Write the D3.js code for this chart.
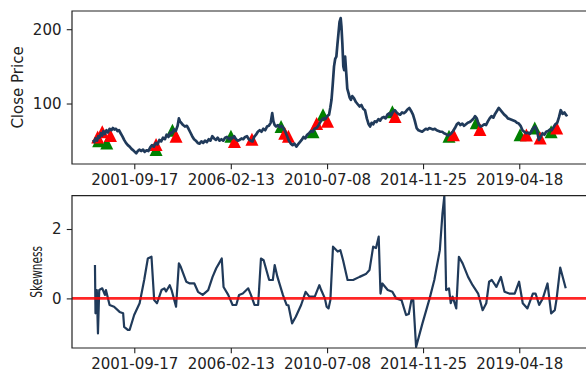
<!DOCTYPE html>
<html>
<head>
<meta charset="utf-8">
<script src="https://cdn.jsdelivr.net/npm/d3@7"></script>
<style>
  html, body { margin: 0; padding: 0; background: #fff; }
  svg { display: block; font-family: "DejaVu Sans", sans-serif; }
</style>
</head>
<body>
<svg id="chart" width="586" height="376"></svg>
<script>
// Daily close price, sampled roughly every few weeks
const priceSeries = [
  ["1999-11-01", 51], ["1999-11-20", 48], ["1999-12-10", 53], ["2000-01-05", 50], ["2000-01-25", 56],
  ["2000-02-15", 54], ["2000-03-10", 60], ["2000-04-01", 57], ["2000-04-20", 63], ["2000-05-15", 59],
  ["2000-06-10", 64], ["2000-07-05", 61], ["2000-08-01", 66], ["2000-09-01", 64], ["2000-09-25", 67],
  ["2000-10-20", 65], ["2000-11-15", 66], ["2000-12-10", 63], ["2001-01-05", 64], ["2001-02-01", 60],
  ["2001-03-01", 56], ["2001-04-01", 51], ["2001-05-01", 47], ["2001-06-01", 44], ["2001-07-01", 42],
  ["2001-08-01", 39], ["2001-09-01", 37], ["2001-09-25", 35], ["2001-10-20", 33], ["2001-11-15", 36],
  ["2001-12-10", 38], ["2002-01-10", 36], ["2002-02-10", 38], ["2002-03-10", 35], ["2002-04-10", 37],
  ["2002-05-10", 36], ["2002-06-10", 41], ["2002-07-10", 44], ["2002-08-10", 42], ["2002-09-10", 47],
  ["2002-10-10", 45], ["2002-11-10", 51], ["2002-12-10", 49], ["2003-01-10", 54], ["2003-02-10", 52],
  ["2003-03-10", 58], ["2003-04-10", 55], ["2003-05-10", 61], ["2003-06-10", 60], ["2003-07-10", 65],
  ["2003-08-10", 63], ["2003-09-10", 70], ["2003-10-01", 80], ["2003-10-20", 76], ["2003-11-10", 74],
  ["2003-12-10", 71], ["2004-01-10", 69], ["2004-02-10", 70], ["2004-03-10", 66], ["2004-04-10", 61],
  ["2004-05-10", 56], ["2004-06-10", 52], ["2004-07-10", 50], ["2004-08-10", 47], ["2004-09-10", 46],
  ["2004-10-10", 49], ["2004-11-10", 47], ["2004-12-10", 50], ["2005-01-10", 48], ["2005-02-10", 52],
  ["2005-03-10", 50], ["2005-04-10", 56], ["2005-05-10", 53], ["2005-06-10", 51], ["2005-07-10", 54],
  ["2005-08-10", 50], ["2005-09-10", 52], ["2005-10-10", 50], ["2005-11-10", 54], ["2005-12-10", 55],
  ["2006-01-10", 52], ["2006-02-10", 54], ["2006-03-10", 53], ["2006-04-10", 56], ["2006-05-10", 52],
  ["2006-06-10", 50], ["2006-07-10", 51], ["2006-08-10", 53], ["2006-09-10", 52], ["2006-10-10", 55],
  ["2006-11-10", 56], ["2006-12-10", 52], ["2007-01-10", 50], ["2007-02-10", 49], ["2007-03-10", 55],
  ["2007-04-10", 58], ["2007-05-10", 62], ["2007-06-10", 64], ["2007-07-10", 62], ["2007-08-10", 66],
  ["2007-09-10", 64], ["2007-10-10", 69], ["2007-11-10", 70], ["2007-12-10", 74], ["2008-01-05", 87],
  ["2008-01-25", 76], ["2008-02-15", 71], ["2008-03-10", 69], ["2008-04-10", 71], ["2008-05-10", 68],
  ["2008-06-10", 70], ["2008-07-10", 67], ["2008-08-10", 62], ["2008-09-10", 56], ["2008-10-10", 50],
  ["2008-11-10", 46], ["2008-12-10", 44], ["2009-01-10", 46], ["2009-02-10", 42], ["2009-03-10", 45],
  ["2009-04-10", 48], ["2009-05-10", 51], ["2009-06-10", 55], ["2009-07-10", 53], ["2009-08-10", 58],
  ["2009-09-10", 60], ["2009-10-10", 63], ["2009-11-10", 62], ["2009-12-10", 66], ["2010-01-10", 67],
  ["2010-02-10", 70], ["2010-03-10", 74], ["2010-04-10", 78], ["2010-05-10", 80], ["2010-06-10", 79],
  ["2010-07-10", 83], ["2010-08-10", 85], ["2010-09-01", 95], ["2010-09-20", 105], ["2010-10-10", 125],
  ["2010-11-01", 150], ["2010-11-20", 160], ["2010-12-10", 163], ["2010-12-28", 180], ["2011-01-15", 195],
  ["2011-02-01", 210], ["2011-02-20", 215], ["2011-03-05", 203], ["2011-03-20", 181], ["2011-04-05", 150],
  ["2011-04-20", 145], ["2011-05-05", 163], ["2011-05-25", 140], ["2011-06-10", 120], ["2011-07-01", 114],
  ["2011-07-20", 108], ["2011-08-10", 105], ["2011-09-01", 110], ["2011-10-01", 107], ["2011-11-01", 102],
  ["2011-12-01", 99], ["2012-01-01", 96], ["2012-02-01", 98], ["2012-03-01", 93], ["2012-04-01", 91],
  ["2012-05-01", 80], ["2012-06-01", 72], ["2012-06-25", 69], ["2012-07-20", 74], ["2012-08-15", 72],
  ["2012-09-10", 76], ["2012-10-10", 75], ["2012-11-10", 79], ["2012-12-10", 77], ["2013-01-10", 81],
  ["2013-02-10", 82], ["2013-03-10", 80], ["2013-04-10", 85], ["2013-05-10", 87], ["2013-06-10", 84],
  ["2013-07-10", 89], ["2013-08-10", 91], ["2013-09-10", 88], ["2013-10-10", 86], ["2013-11-10", 85],
  ["2013-12-10", 88], ["2014-01-10", 87], ["2014-02-10", 89], ["2014-03-10", 92], ["2014-04-10", 94],
  ["2014-05-10", 90], ["2014-06-10", 85], ["2014-07-10", 77], ["2014-08-10", 67], ["2014-09-10", 64],
  ["2014-10-10", 63], ["2014-11-10", 62], ["2014-12-10", 64], ["2015-01-10", 66], ["2015-02-10", 65],
  ["2015-03-10", 67], ["2015-04-10", 66], ["2015-05-10", 65], ["2015-06-10", 66], ["2015-07-10", 64],
  ["2015-08-10", 63], ["2015-09-10", 62], ["2015-10-10", 62], ["2015-11-10", 60], ["2015-12-10", 59],
  ["2016-01-10", 57], ["2016-02-10", 58], ["2016-03-10", 60], ["2016-04-10", 63], ["2016-05-10", 67],
  ["2016-06-10", 72], ["2016-07-10", 74], ["2016-08-10", 71], ["2016-09-10", 73], ["2016-10-10", 70],
  ["2016-11-10", 72], ["2016-12-10", 74], ["2017-01-10", 75], ["2017-02-10", 77], ["2017-03-10", 79],
  ["2017-04-10", 83], ["2017-05-10", 80], ["2017-06-10", 72], ["2017-07-10", 69], ["2017-08-10", 70],
  ["2017-09-10", 72], ["2017-10-10", 71], ["2017-11-10", 76], ["2017-12-10", 80], ["2018-01-10", 83],
  ["2018-02-10", 81], ["2018-03-10", 86], ["2018-04-10", 90], ["2018-05-10", 94], ["2018-06-10", 91],
  ["2018-07-10", 88], ["2018-08-10", 85], ["2018-09-10", 83], ["2018-10-10", 80], ["2018-11-10", 79],
  ["2018-12-10", 78], ["2019-01-10", 77], ["2019-02-10", 76], ["2019-03-10", 74], ["2019-04-10", 73],
  ["2019-05-10", 70], ["2019-06-10", 64], ["2019-07-10", 62], ["2019-08-10", 60], ["2019-09-10", 61],
  ["2019-10-10", 59], ["2019-11-10", 63], ["2019-12-10", 67], ["2020-01-10", 69], ["2020-02-10", 63],
  ["2020-03-10", 51], ["2020-04-10", 55], ["2020-05-10", 60], ["2020-06-10", 58], ["2020-07-10", 62],
  ["2020-08-10", 63], ["2020-09-10", 65], ["2020-10-10", 64], ["2020-11-10", 68], ["2020-12-10", 72],
  ["2021-01-10", 74], ["2021-02-10", 82], ["2021-03-10", 91], ["2021-04-10", 86], ["2021-05-10", 88],
  ["2021-06-10", 84], ["2021-07-01", 85]
];

// Buy signals (green) and sell signals (red): [date, close]
const buySignals = [
  ["2000-02-01", 50], ["2000-06-15", 47], ["2002-09-15", 38], ["2003-06-15", 64], ["2006-02-15", 56],
  ["2008-06-01", 69], ["2009-11-15", 62], ["2010-05-01", 85], ["2013-07-01", 89], ["2016-02-01", 56],
  ["2017-05-01", 74], ["2019-05-01", 58], ["2020-01-01", 67], ["2020-10-01", 62]
];
const sellSignals = [
  ["2000-01-15", 55], ["2000-04-01", 62], ["2000-08-15", 57], ["2002-09-15", 45], ["2003-08-15", 56],
  ["2006-04-15", 49], ["2007-02-01", 52], ["2008-08-01", 60], ["2008-10-01", 56], ["2010-01-15", 73],
  ["2010-07-15", 76], ["2013-08-15", 82.5], ["2016-04-15", 58], ["2017-07-01", 65], ["2019-08-15", 57.5],
  ["2020-04-01", 53.5], ["2021-01-01", 67]
];

// Rolling skewness of returns
const skewSeries = [
  ["1999-12-01", 0.96], ["1999-12-10", -0.43], ["2000-01-01", 0.24], ["2000-01-20", -1.01], ["2000-02-10", 0.24],
  ["2000-04-01", 0.29], ["2000-05-15", 0.10], ["2000-06-01", 0.24], ["2000-08-01", -0.19], ["2000-10-15", -0.24],
  ["2001-01-15", -0.39], ["2001-03-15", -0.43], ["2001-04-01", -0.82], ["2001-06-01", -0.91], ["2001-07-01", -0.91],
  ["2001-09-15", -0.48], ["2001-12-15", -0.14], ["2002-03-01", 0.53], ["2002-05-01", 1.15], ["2002-07-01", 1.20],
  ["2002-08-15", -0.05], ["2002-10-01", -0.14], ["2002-12-15", 0.24], ["2003-02-01", 0.29], ["2003-03-01", 0.20],
  ["2003-05-01", 0.38], ["2003-06-01", 0.24], ["2003-08-15", -0.24], ["2003-10-01", 1.01], ["2003-11-01", 0.91],
  ["2004-02-01", 0.48], ["2004-04-01", 0.43], ["2004-06-15", 0.43], ["2004-08-15", 0.19], ["2004-11-01", 0.10],
  ["2005-02-01", 0.24], ["2005-04-15", 0.62], ["2005-06-15", 0.87], ["2005-08-01", 1.01], ["2005-09-15", 1.15],
  ["2005-10-15", 0.33], ["2006-01-01", 0.10], ["2006-03-15", -0.19], ["2006-05-15", -0.19], ["2006-07-01", 0.10],
  ["2006-09-01", 0.14], ["2006-12-01", 0.29], ["2007-01-15", 0.10], ["2007-03-15", -0.19], ["2007-05-15", -0.19],
  ["2007-07-01", 1.15], ["2007-08-15", 1.10], ["2007-11-15", 0.53], ["2008-01-15", 0.53], ["2008-02-15", 0.96],
  ["2008-04-01", 0.62], ["2008-07-01", 0.10], ["2008-09-01", -0.19], ["2008-10-01", -0.20], ["2008-12-01", -0.72],
  ["2009-02-01", -0.53], ["2009-05-01", -0.19], ["2009-07-15", 0.19], ["2009-09-15", 0.05], ["2009-12-15", 0.05],
  ["2010-03-01", 0.38], ["2010-04-01", 0.24], ["2010-06-01", 0.00], ["2010-07-01", -0.24], ["2010-08-01", -0.29],
  ["2010-09-01", -0.05], ["2010-10-15", 1.49], ["2011-01-01", 1.35], ["2011-02-15", 1.39], ["2011-04-01", 1.10],
  ["2011-06-15", 0.53], ["2011-09-15", 0.53], ["2012-01-01", 0.62], ["2012-04-15", 0.70], ["2012-06-15", 0.82],
  ["2012-08-15", 1.49], ["2012-10-01", 1.45], ["2012-11-15", 1.78], ["2012-12-15", 0.14], ["2013-01-15", 0.43],
  ["2013-04-15", 0.24], ["2013-07-01", 0.19], ["2013-09-01", 0.00], ["2013-12-01", -0.05], ["2014-02-15", -0.48],
  ["2014-04-01", -0.45], ["2014-05-15", -0.05], ["2014-06-15", -0.05], ["2014-08-01", -1.40], ["2014-11-15", -0.72],
  ["2015-03-15", 0.00], ["2015-06-01", 0.53], ["2015-09-01", 1.39], ["2015-10-15", 2.45], ["2015-11-15", 2.95],
  ["2015-12-15", 0.24], ["2016-02-01", 0.29], ["2016-03-01", -0.14], ["2016-04-01", 0.05], ["2016-06-01", -0.29],
  ["2016-07-15", 1.20], ["2016-09-15", 1.01], ["2016-12-15", 0.62], ["2017-03-01", 0.38], ["2017-06-01", 0.14],
  ["2017-08-15", -0.34], ["2017-10-15", -0.14], ["2017-12-01", 0.48], ["2018-01-15", 0.53], ["2018-04-01", 0.33],
  ["2018-06-15", 0.62], ["2018-08-15", 0.19], ["2018-11-01", 0.14], ["2019-02-01", 0.14], ["2019-04-15", 0.48],
  ["2019-06-15", -0.14], ["2019-09-01", -0.29], ["2019-12-01", 0.14], ["2020-01-15", 0.14], ["2020-03-15", -0.19],
  ["2020-05-15", 0.00], ["2020-08-01", 0.43], ["2020-10-01", -0.43], ["2020-12-01", -0.34], ["2021-01-01", 0.00],
  ["2021-03-01", 0.89], ["2021-06-01", 0.29]
];

const dateTicks = ["2001-09-17", "2006-02-13", "2010-07-08", "2014-11-25", "2019-04-18"];
const priceTicks = [100, 200];
const skewTicks = [0, 2];

const parse = d3.timeParse("%Y-%m-%d");
const fmt = d3.timeFormat("%Y-%m-%d");

const svg = d3.select("#chart");
const FONT = 15;
const TICK = 5.25;
const LINE = "#203a5a";

// Panel geometry (axes extend to the right edge of the canvas)
const left = 72, right = 587.6;
const topPanel = { y0: 11, y1: 164 };
const botPanel = { y0: 195.7, y1: 348 };

const x = d3.scaleTime()
  .domain([parse("1998-11-13"), parse("2022-06-01")])
  .range([left, right]);

const yPrice = d3.scaleLinear().domain([18.6, 224.5]).range([topPanel.y1, topPanel.y0]);
const ySkew = d3.scaleLinear().domain([-1.43, 2.96]).range([botPanel.y1, botPanel.y0]);

const defs = svg.append("defs");
[["clipTop", topPanel], ["clipBot", botPanel]].forEach(([id, p]) => {
  defs.append("clipPath").attr("id", id)
    .append("rect").attr("x", left).attr("y", p.y0)
    .attr("width", right - left).attr("height", p.y1 - p.y0);
});

function styleAxis(g) {
  g.select(".domain").remove();
  g.selectAll(".tick line").attr("stroke", "#222").attr("stroke-width", 1.1);
  g.selectAll(".tick text").attr("fill", "#222").attr("font-size", FONT)
    .attr("font-family", "DejaVu Sans");
}

function drawPanel(p, y, yTicks, clipId) {
  // x axis
  svg.append("g").attr("transform", `translate(0,${p.y1})`)
    .call(d3.axisBottom(x).tickValues(dateTicks.map(parse)).tickFormat(fmt)
      .tickSize(TICK).tickPadding(TICK))
    .call(styleAxis);
  // y axis
  svg.append("g").attr("transform", `translate(${left},0)`)
    .call(d3.axisLeft(y).tickValues(yTicks).tickFormat(d3.format("d"))
      .tickSize(TICK).tickPadding(TICK))
    .call(styleAxis);
  return svg.append("g").attr("clip-path", `url(#${clipId})`);
}

// ---- Top panel: close price with trade signals ----
const gTop = drawPanel(topPanel, yPrice, priceTicks, "clipTop");

const tri = (cx, cy, s) =>
  `M${cx},${cy - s / 2}L${cx + s / 2},${cy + s / 2}L${cx - s / 2},${cy + s / 2}Z`;

gTop.selectAll("path.buy").data(buySignals).join("path")
  .attr("class", "buy")
  .attr("d", d => tri(x(parse(d[0])), yPrice(d[1]), 13))
  .attr("fill", "green");

gTop.selectAll("path.sell").data(sellSignals).join("path")
  .attr("class", "sell")
  .attr("d", d => tri(x(parse(d[0])), yPrice(d[1]), 13))
  .attr("fill", "red");

gTop.append("path")
  .datum(priceSeries)
  .attr("fill", "none")
  .attr("stroke", LINE)
  .attr("stroke-width", 2.7)
  .attr("stroke-linejoin", "round")
  .attr("d", d3.line().x(d => x(parse(d[0]))).y(d => yPrice(d[1])));

// ---- Bottom panel: skewness ----
const gBot = drawPanel(botPanel, ySkew, skewTicks, "clipBot");

gBot.append("path")
  .datum(skewSeries)
  .attr("fill", "none")
  .attr("stroke", LINE)
  .attr("stroke-width", 2.2)
  .attr("stroke-linejoin", "round")
  .attr("d", d3.line().x(d => x(parse(d[0]))).y(d => ySkew(d[1])));

gBot.append("line")
  .attr("x1", left).attr("x2", right)
  .attr("y1", ySkew(0)).attr("y2", ySkew(0))
  .attr("stroke", "red").attr("stroke-opacity", 0.85).attr("stroke-width", 2.6);

// Spines: left, top, bottom (right edge lies outside the canvas)
[topPanel, botPanel].forEach(p => {
  svg.append("path")
    .attr("d", `M${right},${p.y0}H${left}V${p.y1}H${right}`)
    .attr("fill", "none").attr("stroke", "#222").attr("stroke-width", 1.2);
});

// Axis labels
svg.append("text")
  .attr("transform", `translate(23,${(topPanel.y0 + topPanel.y1) / 2}) rotate(-90)`)
  .attr("text-anchor", "middle").attr("font-size", FONT).attr("fill", "#222")
  .text("Close Price");

svg.append("text")
  .attr("transform", `translate(42,${(botPanel.y0 + botPanel.y1) / 2}) rotate(-90)`)
  .attr("text-anchor", "middle").attr("font-size", FONT).attr("fill", "#222")
  .attr("textLength", 52).attr("lengthAdjust", "spacingAndGlyphs")
  .text("Skewness");
</script>
</body>
</html>
